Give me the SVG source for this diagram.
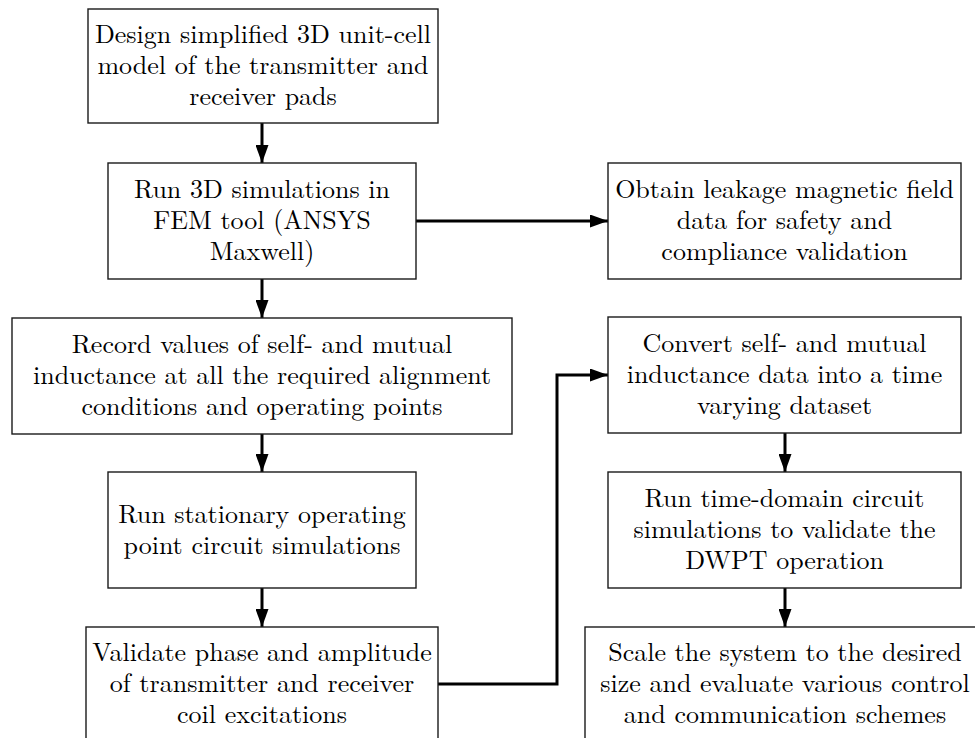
<svg xmlns="http://www.w3.org/2000/svg" width="975" height="738" viewBox="0 0 975 738">
  <style>
    .box { fill: #ffffff; stroke: #1a1a1a; stroke-width: 1.4; }
    .lbl { font-family: "Latin Modern Roman", "Liberation Serif", "DejaVu Serif", serif; font-size: 26px; fill: #000000; text-anchor: middle; }
    .edge { fill: none; stroke: #000000; stroke-width: 3; }
  </style>
  <defs>
    <marker id="arrow" viewBox="0 0 18 13" refX="18" refY="6.5" markerWidth="18" markerHeight="13" markerUnits="userSpaceOnUse" orient="auto">
      <path d="M0,0 L18,6.5 L0,13 Z" fill="#000000"/>
    </marker>
  </defs>
  <rect width="975" height="738" fill="#ffffff"/>

  <g id="connectors">
    <line class="edge" x1="262" y1="123" x2="262" y2="163" marker-end="url(#arrow)"/>
    <line class="edge" x1="416" y1="221" x2="608" y2="221" marker-end="url(#arrow)"/>
    <line class="edge" x1="262" y1="279" x2="262" y2="318" marker-end="url(#arrow)"/>
    <line class="edge" x1="262" y1="434" x2="262" y2="472" marker-end="url(#arrow)"/>
    <line class="edge" x1="262" y1="588" x2="262" y2="627" marker-end="url(#arrow)"/>
    <polyline class="edge" points="438,684 557,684 557,375 608,375" marker-end="url(#arrow)"/>
    <line class="edge" x1="785" y1="433" x2="785" y2="472" marker-end="url(#arrow)"/>
    <line class="edge" x1="785" y1="588" x2="785" y2="627" marker-end="url(#arrow)"/>
  </g>

  <g id="design">
    <rect class="box" x="88" y="9" width="350" height="114"/>
    <text class="lbl" x="263" y="43">Design simplified 3D unit-cell</text>
    <text class="lbl" x="263" y="74">model of the transmitter and</text>
    <text class="lbl" x="263" y="105">receiver pads</text>
  </g>

  <g id="fem">
    <rect class="box" x="108" y="163" width="308" height="116"/>
    <text class="lbl" x="262" y="198">Run 3D simulations in</text>
    <text class="lbl" x="262" y="229">FEM tool (ANSYS</text>
    <text class="lbl" x="262" y="260">Maxwell)</text>
  </g>

  <g id="leakage">
    <rect class="box" x="608" y="163" width="353" height="116"/>
    <text class="lbl" x="784.5" y="198">Obtain leakage magnetic field</text>
    <text class="lbl" x="784.5" y="229">data for safety and</text>
    <text class="lbl" x="784.5" y="260">compliance validation</text>
  </g>

  <g id="record">
    <rect class="box" x="12" y="318" width="500" height="116"/>
    <text class="lbl" x="262" y="353">Record values of self- and mutual</text>
    <text class="lbl" x="262" y="384">inductance at all the required alignment</text>
    <text class="lbl" x="262" y="415">conditions and operating points</text>
  </g>

  <g id="stationary">
    <rect class="box" x="108" y="472" width="308" height="116"/>
    <text class="lbl" x="262" y="522.5">Run stationary operating</text>
    <text class="lbl" x="262" y="553.5">point circuit simulations</text>
  </g>

  <g id="validate">
    <rect class="box" x="86" y="627" width="352" height="116"/>
    <text class="lbl" x="262" y="661">Validate phase and amplitude</text>
    <text class="lbl" x="262" y="692">of transmitter and receiver</text>
    <text class="lbl" x="262" y="723">coil excitations</text>
  </g>

  <g id="convert">
    <rect class="box" x="608" y="317" width="353" height="116"/>
    <text class="lbl" x="784.5" y="352">Convert self- and mutual</text>
    <text class="lbl" x="784.5" y="383">inductance data into a time</text>
    <text class="lbl" x="784.5" y="414">varying dataset</text>
  </g>

  <g id="timedomain">
    <rect class="box" x="608" y="472" width="353" height="116"/>
    <text class="lbl" x="784.5" y="507">Run time-domain circuit</text>
    <text class="lbl" x="784.5" y="538">simulations to validate the</text>
    <text class="lbl" x="784.5" y="569">DWPT operation</text>
  </g>

  <g id="scale">
    <rect class="box" x="585" y="627" width="400" height="116"/>
    <text class="lbl" x="785" y="661">Scale the system to the desired</text>
    <text class="lbl" x="785" y="692">size and evaluate various control</text>
    <text class="lbl" x="785" y="723">and communication schemes</text>
  </g>
</svg>
